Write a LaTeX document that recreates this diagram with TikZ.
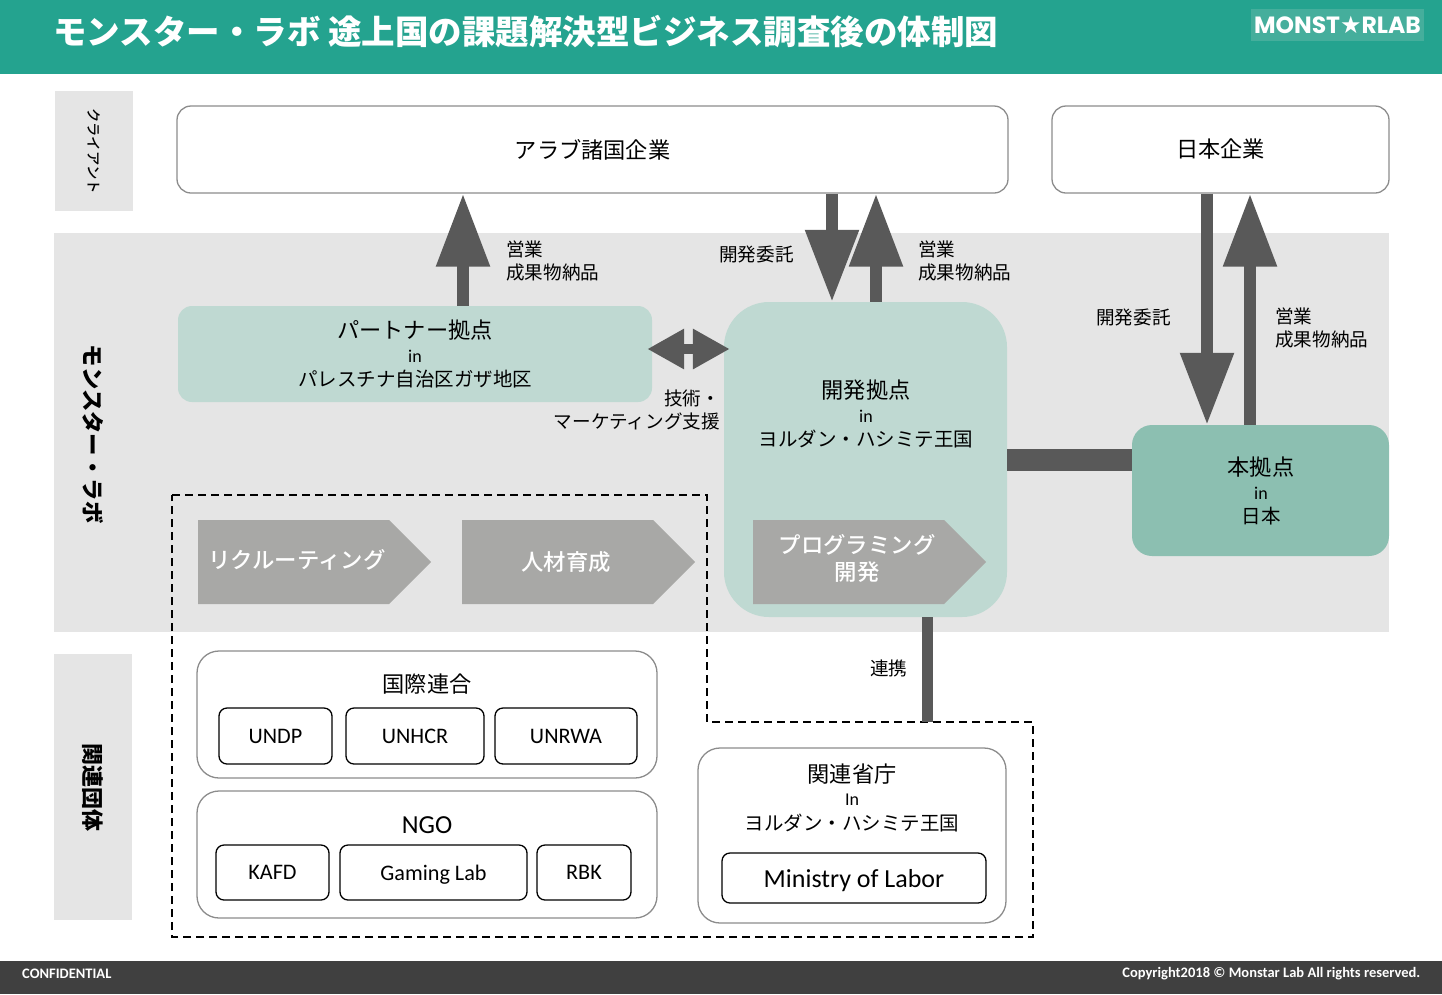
\documentclass[tikz,border=0pt]{standalone}
\usepackage{fontspec}
\usetikzlibrary{arrows.meta,shapes.symbols}
\setmainfont{Carlito}
\newfontfamily\jp{Noto Sans CJK JP}
\newfontfamily\jpmed{Noto Sans CJK JP Medium}
\newfontfamily\logofont{Poppins}
\newfontfamily\starfont{DejaVu Sans}
\newcommand{\jpsize}[2]{\jp\fontsize{#1}{#2}\selectfont}
\newcommand{\ltsize}[2]{\rmfamily\fontsize{#1}{#2}\selectfont}
\definecolor{headteal}{HTML}{24A38F}
\definecolor{logoteal}{HTML}{45AE9C}
\definecolor{bandgray}{HTML}{E5E5E5}
\definecolor{darkbar}{HTML}{404040}
\definecolor{arrowgray}{HTML}{595959}
\definecolor{chevgray}{HTML}{A8A8A6}
\definecolor{hubpale}{HTML}{BFD9D2}
\definecolor{hubdeep}{HTML}{8CBFB1}
\definecolor{framegray}{HTML}{8C8C8C}
\tikzset{
	bar/.style={fill=#1, inner sep=0pt},
	sidelabel/.style={rotate=-90, font=\jpsize{#1}{26}\bfseries},
	clientbox/.style={draw=framegray, line width=1.3pt, fill=white, rounded corners=14pt, inner sep=0pt, font=\jpsize{22.2}{26}},
	groupbox/.style={draw=framegray, line width=1.3pt, fill=white, rounded corners=22pt, inner sep=0pt},
	orgbox/.style={draw=black, line width=1.3pt, fill=white, rounded corners=8pt, inner sep=0pt, text depth=0pt, font=\ltsize{22.2}{26}},
	hubbox/.style={rounded corners=#1, inner sep=0pt},
	hubtext/.style={align=center, inner sep=0pt},
	note/.style={align=left, anchor=west, inner sep=0pt, font=\jpsize{18.6}{22.5}},
	chevron/.style={signal, signal to=east, signal pointer angle=90, fill=chevgray, anchor=west, inner sep=0pt, minimum height=84pt},
	chevtext/.style={text=white, align=center, inner sep=0pt, font=\jpmed\fontsize{22.4}{27}\selectfont},
	blockup/.style={arrowgray, line width=12pt, -{Triangle[width=51pt,length=73pt]}},
	blockdown/.style={arrowgray, line width=12pt, -{Triangle[width=51pt,length=72pt]}},
}
\begin{document}
\begin{tikzpicture}[x=1pt,y=-1pt]
	\useasboundingbox (0,0) rectangle (1442,994);

	% header and footer
	\node (header) [bar=headteal, minimum width=1442pt, minimum height=74pt] at (721,37) {};
	\node (footer) [bar=darkbar, minimum width=1442pt, minimum height=33pt] at (721,977.5) {};
	\node (title) [anchor=west, inner sep=0pt, text=white, font=\jpsize{33.5}{38}\bfseries] at (53,32) {モンスター・ラボ 途上国の課題解決型ビジネス調査後の体制図};
	\node (logo) [bar=logoteal, minimum width=173pt, minimum height=32pt, text=white, font=\logofont\fontsize{23.5}{26}\selectfont\bfseries] at (1337.5,25) {MONST{\starfont\fontsize{24}{26}\selectfont ★}RLAB};
	\node (confidential) [anchor=west, inner sep=0pt, text=white, font=\ltsize{14.5}{16}\bfseries] at (22,974) {CONFIDENTIAL};
	\node (copyright) [anchor=east, inner sep=0pt, text=white, font=\ltsize{14.5}{16}\bfseries] at (1420.5,974) {Copyright2018 © Monstar Lab All rights reserved.};

	% left column and band
	\node (band) [bar=bandgray, minimum width=1335pt, minimum height=399pt] at (721.5,432.5) {};
	\node (clientcell) [bar=bandgray, minimum width=78pt, minimum height=120pt] at (94,151) {};
	\node (groupcell) [bar=bandgray, minimum width=78pt, minimum height=266pt] at (93,787) {};
	\node (clientlabel) [rotate=-90, font=\jpmed\fontsize{14.4}{16}\selectfont] at (94,151) {クライアント};
	\node (labside) [sidelabel=22.4] at (93,434) {モンスター・ラボ};
	\node (groupside) [sidelabel=22] at (93,787.5) {関連団体};

	% clients
	\node (arab) [clientbox, minimum width=831pt, minimum height=87pt] at (592.5,149.5) {アラブ諸国企業};
	\node (japan) [clientbox, minimum width=337pt, minimum height=87pt] at (1220.5,149.5) {日本企業};

	% hubs
	\node (partner) [hubbox=14pt, fill=hubpale, minimum width=474pt, minimum height=96pt] at (415,354) {};
	\node (dev) [hubbox=45pt, fill=hubpale, minimum width=283pt, minimum height=315pt] at (865.5,459.5) {};
	\node (hq) [hubbox=20pt, fill=hubdeep, minimum width=257pt, minimum height=131pt] at (1260.5,490.5) {};
	\node (partnertext) [hubtext] at (415,354) {\jpsize{22.2}{26}パートナー拠点\\[9pt]\ltsize{18}{26}in\\[7pt]\jpsize{19.5}{22}パレスチナ自治区ガザ地区};
	\node (devtext) [hubtext] at (866,414) {\jpsize{22.2}{26}開発拠点\\[9pt]\ltsize{18}{26}in\\[7pt]\jpsize{19.5}{22}ヨルダン・ハシミテ王国};
	\node (hqtext) [hubtext] at (1261,491) {\jpsize{22.2}{26}本拠点\\[9pt]\ltsize{18}{26}in\\[7pt]\jpsize{19.5}{22}日本};

	% chevrons
	\node (recruit) [chevron, minimum width=233pt] at (198,562) {};
	\node (training) [chevron, minimum width=233pt] at (462,562) {};
	\node (coding) [chevron, minimum width=233pt] at (753,562) {};
	\node (recruittext) [chevtext] at (297,560) {リクルーティング};
	\node (trainingtext) [chevtext] at (566,562) {人材育成};
	\node (codingtext) [chevtext] at (857,558) {プログラミング\\開発};

	% related groups
	\draw[black, line width=1.3pt, dash pattern=on 8pt off 5pt] (172,495) -- (707,495) -- (707,722) -- (1033,722) -- (1033,937) -- (172,937) -- cycle;
	\coordinate (frametop) at (927,722);
	\node (un) [groupbox, minimum width=460pt, minimum height=127pt] at (427,714.5) {};
	\node (ngo) [groupbox, minimum width=460pt, minimum height=127pt] at (427,854.5) {};
	\node (ministry) [groupbox, minimum width=308pt, minimum height=175pt] at (852,835.5) {};
	\node (untext) [hubtext, font=\jpsize{22.2}{26}] at (427,684) {国際連合};
	\node (ngotext) [hubtext, font=\ltsize{26}{28}] at (427,825) {NGO};
	\node (ministrytext) [hubtext] at (852,798) {\jpsize{22.2}{26}関連省庁\\[9pt]\ltsize{18}{26}In\\[7pt]\jpsize{19.5}{22}ヨルダン・ハシミテ王国};
	\node (undp) [orgbox, minimum width=113pt, minimum height=56pt] at (275.5,736) {UNDP};
	\node (unhcr) [orgbox, minimum width=138pt, minimum height=56pt] at (415,736) {UNHCR};
	\node (unrwa) [orgbox, minimum width=142pt, minimum height=56pt] at (566,736) {UNRWA};
	\node (kafd) [orgbox, minimum width=113pt, minimum height=55pt] at (272.5,872.5) {KAFD};
	\node (gaming) [orgbox, minimum width=187pt, minimum height=55pt] at (433.5,872.5) {Gaming Lab};
	\node (rbk) [orgbox, minimum width=94pt, minimum height=55pt] at (584,872.5) {RBK};
	\node (labor) [orgbox, minimum width=264pt, minimum height=50pt, font=\ltsize{26}{28}] at (854,878) {Ministry of Labor};

	% connectors
	\draw[blockup] ([xshift=48pt]partner.north) -- ([xshift=48pt]partner.north |- arab.south);
	\draw[blockdown] ([xshift=-33.5pt]dev.north |- arab.south) -- ([xshift=-33.5pt]dev.north);
	\draw[blockup] ([xshift=10.5pt]dev.north) -- ([xshift=10.5pt]dev.north |- arab.south);
	\draw[blockdown] ([xshift=-53.5pt]hq.north |- japan.south) -- ([xshift=-53.5pt]hq.north);
	\draw[blockup] ([xshift=-10.5pt]hq.north) -- ([xshift=-10.5pt]hq.north |- japan.south);
	\draw[arrowgray, line width=10pt, shorten <=-5pt, shorten >=-6pt, {Triangle[width=38pt,length=37pt]}-{Triangle[width=38pt,length=37pt]}] ([yshift=5pt]partner.east) -- ([yshift=5pt]partner.east -| dev.west);
	\draw[arrowgray, line width=22pt] (dev.east) -- (dev.east -| hq.west);
	\draw[arrowgray, line width=11pt] ([xshift=61.5pt]dev.south) -- (frametop);

	% notes
	\node (sales1) [note] at (506,261) {営業\\成果物納品};
	\node (order1) [note] at (719,254) {開発委託};
	\node (sales2) [note] at (918,261) {営業\\成果物納品};
	\node (order2) [note] at (1096,317) {開発委託};
	\node (sales3) [note] at (1275,328) {営業\\成果物納品};
	\node (support) [note, align=right, anchor=east] at (720,410) {技術・\\マーケティング支援};
	\node (liaison) [note] at (870,668) {連携};
\end{tikzpicture}
\end{document}
